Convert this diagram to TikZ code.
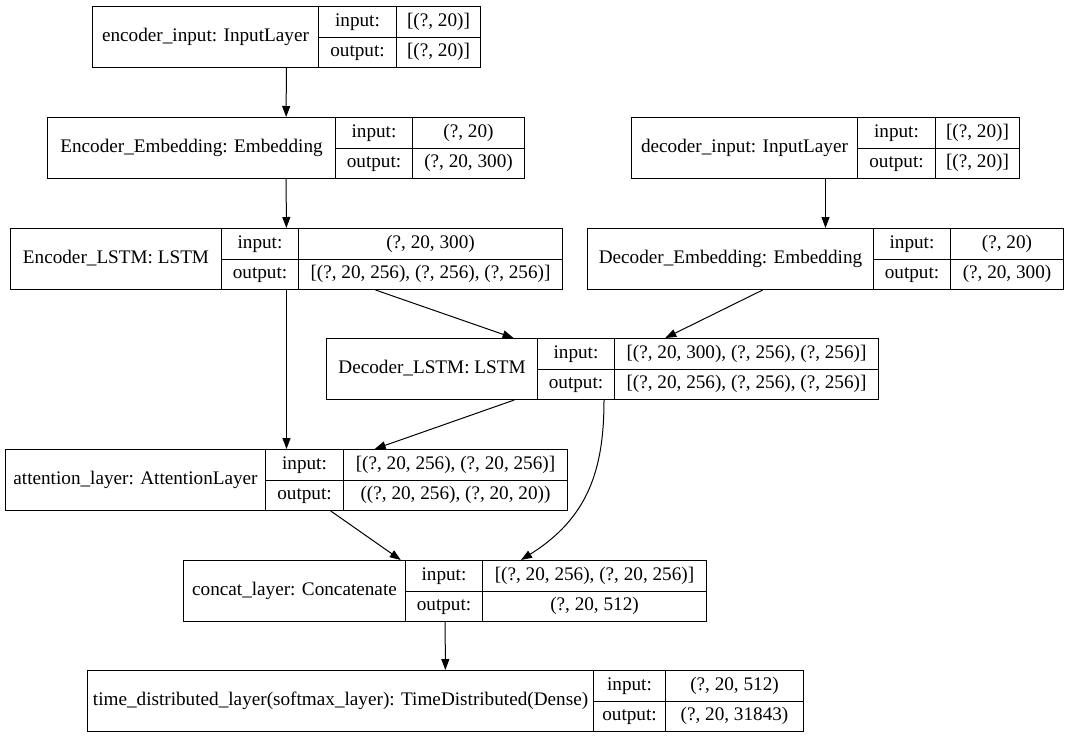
\documentclass[tikz,border=0pt]{standalone}
\usepackage{fontspec}
\setmainfont{Liberation Serif}
\usetikzlibrary{arrows.meta,calc}
\tikzset{
  cell/.style={draw=black, line width=1pt, rectangle, inner sep=0pt, anchor=north west,
    font=\fontsize{19.2}{22}\selectfont, text height=13pt, text depth=4pt},
  whole/.style={draw=black, line width=1pt, rectangle, inner sep=0pt, anchor=north west},
  edge/.style={line width=1pt, -{Triangle[length=11pt,width=8pt]}}
}
\newcommand\layerbox[9]{%
  % #1 name, #2 x1, #3 x2, #4 x3, #5 x4, #6 ytop, #7 label, #8 input, #9 output
  \node[cell, minimum width={(#3-#2)*1pt}, minimum height=61pt] (#1-l) at (#2,#6) {#7};
  \node[cell, minimum width={(#4-#3)*1pt}, minimum height=30.5pt] (#1-ik) at (#3,#6) {input:};
  \node[cell, minimum width={(#5-#4)*1pt}, minimum height=30.5pt] (#1-iv) at (#4,#6) {#8};
  \node[cell, minimum width={(#4-#3)*1pt}, minimum height=30.5pt] (#1-ok) at (#3,#6+30.5) {output:};
  \node[cell, minimum width={(#5-#4)*1pt}, minimum height=30.5pt] (#1-ov) at (#4,#6+30.5) {#9};
  \node[whole, minimum width={(#5-#2)*1pt}, minimum height=61pt] (#1) at (#2,#6) {};
}
\begin{document}
\begin{tikzpicture}[x=1pt,y=-1pt]
\useasboundingbox[fill=white] (0,0) rectangle (1068,737);
\layerbox{ei}{92}{318}{396}{480}{6}{encoder\_input: InputLayer}{[(?, 20)]}{[(?, 20)]}
\layerbox{ee}{47}{335}{412}{524}{117}{Encoder\_Embedding: Embedding}{(?, 20)}{(?, 20, 300)}
\layerbox{di}{631}{857}{935}{1019}{117}{decoder\_input: InputLayer}{[(?, 20)]}{[(?, 20)]}
\layerbox{el}{10}{221}{298}{562}{228}{Encoder\_LSTM: LSTM}{(?, 20, 300)}{[(?, 20, 256), (?, 256), (?, 256)]}
\layerbox{de}{587}{873}{950}{1063}{228}{Decoder\_Embedding: Embedding}{(?, 20)}{(?, 20, 300)}
\layerbox{dl}{326}{537}{614}{878}{338}{Decoder\_LSTM: LSTM}{[(?, 20, 300), (?, 256), (?, 256)]}{[(?, 20, 256), (?, 256), (?, 256)]}
\layerbox{att}{5}{265}{343}{567}{449}{attention\_layer: AttentionLayer}{[(?, 20, 256), (?, 20, 256)]}{((?, 20, 256), (?, 20, 20))}
\layerbox{cc}{183}{405}{482}{706}{560}{concat\_layer: Concatenate}{[(?, 20, 256), (?, 20, 256)]}{(?, 20, 512)}
\layerbox{td}{87}{593}{665}{803}{670}{time\_distributed\_layer(softmax\_layer): TimeDistributed(Dense)}{(?, 20, 512)}{(?, 20, 31843)}

\draw[edge] (ei) -- (ee);
\draw[edge] (ee) -- (el);
\draw[edge] (di) -- (de);
\draw[edge] (el) -- (att);
\draw[edge] (el) -- (dl);
\draw[edge] (de) -- (dl);
\draw[edge] (dl) -- (att);
\draw[edge] (att) -- (cc);
\draw[edge] ($(dl.south west)+(278,0)$) .. controls (604,470) and (588,518) .. ($(cc.north west)+(338,0)$);
\draw[edge] (cc) -- (td);
\end{tikzpicture}
\end{document}
